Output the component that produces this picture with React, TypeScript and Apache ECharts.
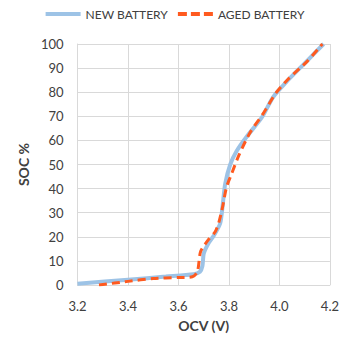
import React, { useEffect, useRef } from "react";
import * as echarts from "echarts";

const newBattery: [number, number][] = [
  [3.2, 0.5], [3.4, 2.2], [3.55, 3.5], [3.66, 4.5], [3.685, 5.5], [3.695, 8], [3.7, 13], [3.72, 17.5],
  [3.74, 20.5], [3.765, 25.5], [3.775, 33], [3.785, 42], [3.805, 50], [3.83, 55.5], [3.87, 61.5],
  [3.93, 69.5], [3.975, 78], [4.025, 84], [4.1, 92], [4.175, 100],
];
const agedBattery: [number, number][] = [
  [3.285, 0], [3.4, 1.5], [3.5, 2.7], [3.6, 3.1], [3.655, 3.4], [3.675, 5.5], [3.688, 14],
  [3.72, 19], [3.745, 22], [3.76, 26], [3.775, 32.5], [3.79, 40.5], [3.81, 46], [3.84, 54],
  [3.885, 63.5], [3.935, 71], [3.985, 79.5], [4.035, 85.5], [4.11, 92.8], [4.17, 100],
];
const xTicks = [3.2, 3.4, 3.6, 3.8, 4.0, 4.2];
const yTicks = [0, 10, 20, 30, 40, 50, 60, 70, 80, 90, 100];

export default function App() {
  const ref = useRef<HTMLDivElement>(null);
  useEffect(() => {
    const chart = echarts.init(ref.current!, null, { renderer: "svg" });
    const font = "Lato, 'Liberation Sans', sans-serif";
    chart.setOption({
      animation: false,
      textStyle: { fontFamily: font },
      legend: {
        top: 0,
        padding: 0,
        left: "center",
        itemWidth: 35,
        itemHeight: 4,
        itemGap: 10,
        textStyle: { fontSize: 12, color: "#404040", fontFamily: font },
        data: [
          { name: "NEW BATTERY", icon: "rect" },
          { name: "AGED BATTERY", icon: "path://M0,0h9v4h-9z M13,0h9v4h-9z M26,0h9v4h-9z" },
        ],
      },
      grid: { left: 58, right: 12, top: 36, bottom: 47 },
      xAxis: {
        type: "value",
        min: xTicks[0],
        max: xTicks[xTicks.length - 1],
        interval: 0.2,
        name: "OCV (V)",
        nameLocation: "middle",
        nameGap: 33,
        nameTextStyle: { fontSize: 14, fontWeight: "bold", color: "#404040", fontFamily: font },
        axisLine: { show: true, lineStyle: { color: "#d9d9d9" } },
        axisTick: { show: false },
        axisLabel: { fontSize: 13, color: "#404040", margin: 14, formatter: (v: number) => v.toFixed(1) },
        splitLine: { show: true, lineStyle: { color: "#d9d9d9" } },
      },
      yAxis: {
        type: "value",
        min: yTicks[0],
        max: yTicks[yTicks.length - 1],
        interval: 10,
        name: "SOC %",
        nameLocation: "middle",
        nameGap: 40,
        nameTextStyle: { fontSize: 14, fontWeight: "bold", color: "#404040", fontFamily: font },
        axisLine: { show: true, lineStyle: { color: "#d9d9d9" } },
        axisTick: { show: false },
        axisLabel: { fontSize: 13, color: "#404040", margin: 14 },
        splitLine: { show: true, lineStyle: { color: "#d9d9d9" } },
      },
      series: [
        {
          name: "NEW BATTERY",
          type: "line",
          data: newBattery,
          symbol: "none",
          smooth: 0.25,
          lineStyle: { color: "#9dc3e6", width: 4 },
          itemStyle: { color: "#9dc3e6" },
        },
        {
          name: "AGED BATTERY",
          type: "line",
          data: agedBattery,
          symbol: "none",
          smooth: 0.25,
          lineStyle: { color: "#ff5a1f", width: 3, type: [8, 5] },
          itemStyle: { color: "#ff5a1f" },
        },
      ],
    });
    return () => chart.dispose();
  }, []);
  return <div ref={ref} style={{ width: 334, height: 329 }} />;
}
